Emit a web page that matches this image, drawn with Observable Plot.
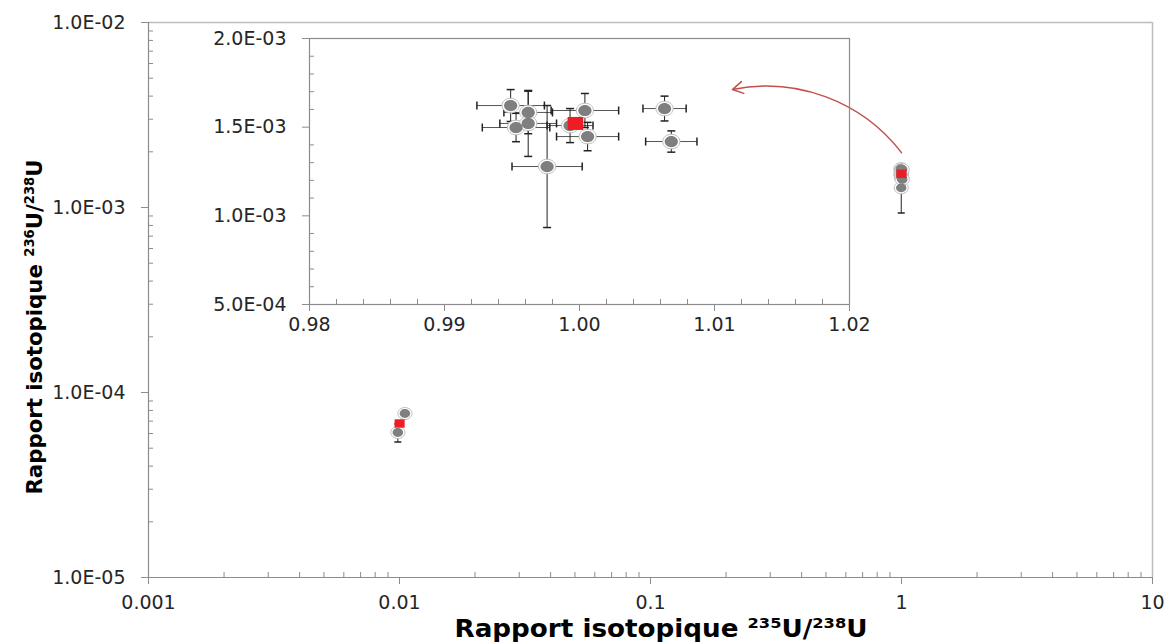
<!DOCTYPE html>
<html><head><meta charset="utf-8">
<script src="https://cdn.jsdelivr.net/npm/d3@7"></script>
<script src="https://cdn.jsdelivr.net/npm/@observablehq/plot@0.6"></script>
<style>
body{margin:0;background:#fff;}
#wrap{position:relative;width:1166px;height:642px;}
#wrap svg{position:absolute;left:0;top:0;}
</style></head><body><div id="wrap"></div>
<script>
// ---- data ----
// natural-uranium samples (235U/238U ~ 1)
const sampleX    = [0.9949, 0.9962, 0.9953, 0.9962, 0.9976, 0.9993, 1.0004, 1.0006, 1.0063, 1.0068];
const sampleY    = [1.622e-3, 1.583e-3, 1.498e-3, 1.521e-3, 1.278e-3, 1.509e-3, 1.594e-3, 1.447e-3, 1.605e-3, 1.419e-3];
const sampleXErr = [0.0025, 0.0018, 0.0025, 0.0021, 0.0026, 0.0017, 0.0025, 0.0023, 0.0016, 0.0019];
const sampleYErr = [0.9e-4, 1.2e-4, 0.8e-4, 1.86e-4, 3.44e-4, 0.96e-4, 0.96e-4, 0.8e-4, 0.7e-4, 0.6e-4];
const sampleMeanX = [0.9997];
const sampleMeanY = [1.521e-3];
// depleted samples (235U/238U ~ 0.01)
const lowX    = [0.01051, 0.00985];
const lowY    = [7.70e-5, 6.08e-5];
const lowYErr = [0.42e-5, 0.68e-5];
const lowMeanX = [0.01001];
const lowMeanY = [6.80e-5];
// arrow annotation (from the cluster at 1 toward the inset)
const arrowFrom = [1.0, 1.98e-3];
const arrowTo   = [0.212, 4.34e-3];
// tick values / labels
const mainXTicks = [0.001, 0.01, 0.1, 1, 10];
const mainXLabels = ["0.001", "0.01", "0.1", "1", "10"];
const mainYTicks = [1e-5, 1e-4, 1e-3, 1e-2];
const mainYLabels = ["1.0E-05", "1.0E-04", "1.0E-03", "1.0E-02"];
const insetXTicks = [0.98, 0.99, 1.00, 1.01, 1.02];
const insetXLabels = ["0.98", "0.99", "1.00", "1.01", "1.02"];
const insetYTicks = [5e-4, 1e-3, 1.5e-3, 2e-3];
const insetYLabels = ["5.0E-04", "1.0E-03", "1.5E-03", "2.0E-03"];
const xTitle = ["Rapport isotopique ", "235", "U/", "238", "U"];
const yTitle = ["Rapport isotopique ", "236", "U/", "238", "U"];

// ---- helpers ----
const lab = (ticks, labels) => { const m = new Map(ticks.map((t, i) => [t, labels[i]])); return d => m.get(d) ?? ""; };
const logMinor = (lo, hi) => { const out = []; for (let d = lo; d < hi * 0.999; d *= 10) for (let k = 2; k <= 9; k++) out.push(d * k); return out; };
const linMinor = (lo, hi, step, majors) => { const out = []; const n = Math.round((hi - lo) / step); for (let i = 0; i <= n; i++) { const v = lo + i * step; if (!majors.some(m => Math.abs(m - v) < step / 10)) out.push(v); } return out; };

const ellipse = { draw(ctx, size) { const r = Math.sqrt(size / Math.PI), rx = r * 1.18, ry = r, k = 0.5523;
  ctx.moveTo(rx, 0);
  ctx.bezierCurveTo(rx, ry * k, rx * k, ry, 0, ry);
  ctx.bezierCurveTo(-rx * k, ry, -rx, ry * k, -rx, 0);
  ctx.bezierCurveTo(-rx, -ry * k, -rx * k, -ry, 0, -ry);
  ctx.bezierCurveTo(rx * k, -ry, rx, -ry * k, rx, 0);
  ctx.closePath(); } };
const square = { draw(ctx, size) { const r = Math.sqrt(size / Math.PI); ctx.rect(-r * 1.2, -r, r * 2.4, r * 2); } };
const hcap = { draw(ctx, size) { const r = Math.sqrt(size / Math.PI); ctx.moveTo(-r, 0); ctx.lineTo(r, 0); } };
const vcap = { draw(ctx, size) { const r = Math.sqrt(size / Math.PI); ctx.moveTo(0, -r); ctx.lineTo(0, r); } };

const GRAY = "#7f7f7f", RING = "#bdbdbd", RED = "#ee1c25", AX = "#8c8c8c", TXT = "#262626";
const FONT = "DejaVu Sans", FS = "19px";
const idx = d3.range(sampleX.length);
const lidx = d3.range(lowX.length);

// ---- main plot ----
const main = Plot.plot({
  width: 1166, height: 642,
  marginLeft: 148, marginRight: 14, marginTop: 22, marginBottom: 65,
  x: { type: "log", domain: [0.001, 10] },
  y: { type: "log", domain: [1e-5, 1e-2] },
  style: { fontFamily: FONT, fontSize: FS, color: TXT, background: "white", overflow: "visible" },
  marks: [
    Plot.ruleY([1e-2], { stroke: "#bdbdbd", strokeWidth: 1.5 }),
    Plot.ruleX([10], { stroke: "#bdbdbd", strokeWidth: 1.5 }),
    Plot.axisX({ ticks: logMinor(0.001, 10), tickSize: -5, tickFormat: () => "", stroke: AX, label: null }),
    Plot.axisY({ ticks: logMinor(1e-5, 1e-2), tickSize: -5, tickFormat: () => "", stroke: AX, label: null }),
    Plot.axisX({ ticks: mainXTicks, tickSize: 7, tickPadding: 11, tickFormat: lab(mainXTicks, mainXLabels), stroke: AX, fill: TXT, fontSize: FS, label: null }),
    Plot.axisY({ ticks: mainYTicks, tickSize: 7, tickPadding: 16, tickFormat: lab(mainYTicks, mainYLabels), stroke: AX, fill: TXT, fontSize: FS, label: null }),
    Plot.ruleX([0.001], { stroke: AX, strokeWidth: 1.2 }),
    Plot.ruleY([1e-5], { stroke: AX, strokeWidth: 1.2 }),
    Plot.arrow([0], { x1: () => arrowFrom[0], y1: () => arrowFrom[1], x2: () => arrowTo[0], y2: () => arrowTo[1],
      bend: -32, stroke: "#c0504d", strokeWidth: 1.5, headLength: 12 }),
    // error bars
    Plot.link(idx, { x1: i => sampleX[i], x2: i => sampleX[i], y1: i => sampleY[i] - sampleYErr[i], y2: i => sampleY[i] + sampleYErr[i], stroke: "#222", strokeWidth: 1 }),
    Plot.dot(idx, { x: i => sampleX[i], y: i => sampleY[i] - sampleYErr[i], symbol: hcap, r: 3.5, fill: "none", stroke: "#222" }),
    Plot.dot(idx, { x: i => sampleX[i], y: i => sampleY[i] + sampleYErr[i], symbol: hcap, r: 3.5, fill: "none", stroke: "#222" }),
    Plot.link(lidx, { x1: i => lowX[i], x2: i => lowX[i], y1: i => lowY[i] - lowYErr[i], y2: i => lowY[i] + lowYErr[i], stroke: "#222", strokeWidth: 1 }),
    Plot.dot(lidx, { x: i => lowX[i], y: i => lowY[i] - lowYErr[i], symbol: hcap, r: 3.5, fill: "none", stroke: "#222" }),
    Plot.dot(lidx, { x: i => lowX[i], y: i => lowY[i] + lowYErr[i], symbol: hcap, r: 3.5, fill: "none", stroke: "#222" }),
    // points
    Plot.dot(idx, { x: i => sampleX[i], y: i => sampleY[i], symbol: ellipse, r: 6, fill: "white", stroke: RING, strokeWidth: 1 }),
    Plot.dot(idx, { x: i => sampleX[i], y: i => sampleY[i], symbol: ellipse, r: 4.4, fill: GRAY }),
    Plot.dot(lidx, { x: i => lowX[i], y: i => lowY[i], symbol: ellipse, r: 6, fill: "white", stroke: RING, strokeWidth: 1 }),
    Plot.dot(lidx, { x: i => lowX[i], y: i => lowY[i], symbol: ellipse, r: 4.4, fill: GRAY }),
    Plot.dot([0], { x: () => sampleMeanX[0], y: () => sampleMeanY[0], symbol: square, r: 4.2, fill: RED }),
    Plot.dot([0], { x: () => lowMeanX[0], y: () => lowMeanY[0], symbol: square, r: 4.2, fill: RED })
  ]
});

// ---- inset ----
const inset = Plot.plot({
  width: 1166, height: 642,
  marginLeft: 309, marginRight: 317, marginTop: 38, marginBottom: 338,
  x: { domain: [0.98, 1.02] },
  y: { domain: [5e-4, 2e-3] },
  style: { fontFamily: FONT, fontSize: FS, color: TXT, background: "none", overflow: "visible" },
  marks: [
    Plot.frame({ stroke: AX, strokeWidth: 1.2 }),
    Plot.axisX({ ticks: linMinor(0.98, 1.02, 0.002, insetXTicks), tickSize: -5, tickFormat: () => "", stroke: AX, label: null }),
    Plot.axisY({ ticks: linMinor(5e-4, 2e-3, 1e-4, insetYTicks), tickSize: -5, tickFormat: () => "", stroke: AX, label: null }),
    Plot.axisX({ ticks: insetXTicks, tickSize: 7, tickPadding: 6, tickFormat: lab(insetXTicks, insetXLabels), stroke: AX, fill: TXT, fontSize: FS, label: null }),
    Plot.axisY({ ticks: insetYTicks, tickSize: 7, tickPadding: 16, tickFormat: lab(insetYTicks, insetYLabels), stroke: AX, fill: TXT, fontSize: FS, label: null }),
    // x error bars
    Plot.link(idx, { x1: i => sampleX[i] - sampleXErr[i], x2: i => sampleX[i] + sampleXErr[i], y1: i => sampleY[i], y2: i => sampleY[i], stroke: "#555", strokeWidth: 1 }),
    Plot.dot(idx, { x: i => sampleX[i] - sampleXErr[i], y: i => sampleY[i], symbol: vcap, r: 4, fill: "none", stroke: "#222" }),
    Plot.dot(idx, { x: i => sampleX[i] + sampleXErr[i], y: i => sampleY[i], symbol: vcap, r: 4, fill: "none", stroke: "#222" }),
    // y error bars
    Plot.link(idx, { x1: i => sampleX[i], x2: i => sampleX[i], y1: i => sampleY[i] - sampleYErr[i], y2: i => sampleY[i] + sampleYErr[i], stroke: "#222", strokeWidth: 1 }),
    Plot.dot(idx, { x: i => sampleX[i], y: i => sampleY[i] - sampleYErr[i], symbol: hcap, r: 4, fill: "none", stroke: "#222" }),
    Plot.dot(idx, { x: i => sampleX[i], y: i => sampleY[i] + sampleYErr[i], symbol: hcap, r: 4, fill: "none", stroke: "#222" }),
    // points
    Plot.dot(idx, { x: i => sampleX[i], y: i => sampleY[i], symbol: ellipse, r: 7.3, fill: "white", stroke: RING, strokeWidth: 1 }),
    Plot.dot(idx, { x: i => sampleX[i], y: i => sampleY[i], symbol: ellipse, r: 5.6, fill: GRAY }),
    Plot.dot([0], { x: () => sampleMeanX[0], y: () => sampleMeanY[0], symbol: square, r: 6.5, fill: RED })
  ]
});

const wrap = document.getElementById("wrap");
wrap.appendChild(main);
wrap.appendChild(inset);

// ---- axis titles with superscripts ----
function addTitle(svg, parts, opts) {
  const t = d3.select(svg).append("text")
    .attr("font-family", "'DejaVu Sans', sans-serif").attr("font-weight", "bold")
    .attr("font-size", opts.size).attr("fill", "#000").attr("text-anchor", "middle")
    .attr("transform", opts.transform)
    .attr("textLength", opts.length).attr("lengthAdjust", "spacingAndGlyphs");
  parts.forEach((p, i) => {
    const sup = i === 1 || i === 3;
    const ts = t.append("tspan").text(p);
    if (sup) ts.attr("font-size", opts.size * 0.62).attr("dy", -opts.size * 0.38);
    else if (i > 0) ts.attr("dy", opts.size * 0.38);
  });
}
addTitle(main, xTitle, { size: 24, transform: "translate(661,637)", length: 413 });
addTitle(main, yTitle, { size: 22, transform: "translate(42,327) rotate(-90)", length: 335 });
</script>
</body></html>
